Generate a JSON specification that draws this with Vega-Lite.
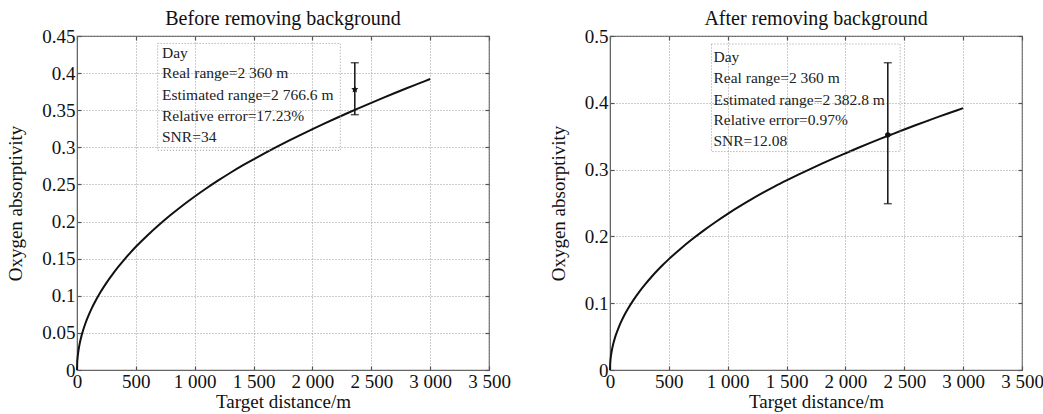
{
  "$schema": "https://vega.github.io/schema/vega-lite/v6.json",
  "background": "white",
  "padding": {"left": 6, "top": 8, "right": 5, "bottom": 0},
  "spacing": 37,
  "datasets": {
    "curve": [
      {"x": 0, "y": 0}, {"x": 2, "y": 0.0105}, {"x": 5, "y": 0.0166}, {"x": 10, "y": 0.0235}, {"x": 20, "y": 0.0332},
      {"x": 30, "y": 0.0407}, {"x": 40, "y": 0.047}, {"x": 50, "y": 0.0525}, {"x": 75, "y": 0.0643}, {"x": 100, "y": 0.0742},
      {"x": 125, "y": 0.083}, {"x": 150, "y": 0.0909}, {"x": 200, "y": 0.105}, {"x": 250, "y": 0.1174}, {"x": 300, "y": 0.1286},
      {"x": 350, "y": 0.1389}, {"x": 400, "y": 0.1485}, {"x": 450, "y": 0.1575}, {"x": 500, "y": 0.166}, {"x": 600, "y": 0.1816},
      {"x": 700, "y": 0.196}, {"x": 800, "y": 0.2094}, {"x": 900, "y": 0.222}, {"x": 1000, "y": 0.2338}, {"x": 1100, "y": 0.2449},
      {"x": 1200, "y": 0.2554}, {"x": 1300, "y": 0.2654}, {"x": 1400, "y": 0.2749}, {"x": 1500, "y": 0.2838}, {"x": 1600, "y": 0.2924},
      {"x": 1700, "y": 0.3008}, {"x": 1800, "y": 0.3089}, {"x": 1900, "y": 0.3168}, {"x": 2000, "y": 0.3244}, {"x": 2100, "y": 0.3319},
      {"x": 2200, "y": 0.3392}, {"x": 2300, "y": 0.3463}, {"x": 2400, "y": 0.3532}, {"x": 2500, "y": 0.36}, {"x": 2600, "y": 0.3667},
      {"x": 2700, "y": 0.3732}, {"x": 2800, "y": 0.3796}, {"x": 2900, "y": 0.3858}, {"x": 3000, "y": 0.392}
    ],
    "errLeft": [{"x": 2360, "y": 0.378, "lo": 0.344, "hi": 0.414}],
    "capsLeft": [{"x": 2360, "y": 0.344}, {"x": 2360, "y": 0.414}],
    "boxLeft": [{"x": 685, "x2": 2237, "y": 0.44, "y2": 0.296}],
    "textLeft": [
      {"x": 722, "y": 0.4275, "label": "Day"},
      {"x": 722, "y": 0.3997, "label": "Real range=2 360 m"},
      {"x": 722, "y": 0.3705, "label": "Estimated range=2 766.6 m"},
      {"x": 722, "y": 0.3426, "label": "Relative error=17.23%"},
      {"x": 722, "y": 0.3143, "label": "SNR=34"}
    ],
    "errRight": [{"x": 2360, "y": 0.352, "lo": 0.249, "hi": 0.46}],
    "capsRight": [{"x": 2360, "y": 0.249}, {"x": 2360, "y": 0.46}],
    "boxRight": [{"x": 862, "x2": 2465, "y": 0.488, "y2": 0.327}],
    "textRight": [
      {"x": 879, "y": 0.469, "label": "Day"},
      {"x": 879, "y": 0.437, "label": "Real range=2 360 m"},
      {"x": 879, "y": 0.4045, "label": "Estimated range=2 382.8 m"},
      {"x": 879, "y": 0.3736, "label": "Relative error=0.97%"},
      {"x": 879, "y": 0.3423, "label": "SNR=12.08"}
    ]
  },
  "hconcat": [
    {
      "width": 412,
      "height": 334,
      "title": {"text": "Before removing background"},
      "resolve": {"axis": {"x": "independent", "y": "independent"}},
      "layer": [
        {
          "data": {"name": "curve"},
          "mark": {"type": "line", "color": "#111", "strokeWidth": 2, "interpolate": "monotone"},
          "encoding": {
            "x": {"field": "x", "type": "quantitative", "scale": {"domain": [0, 3500], "nice": false},
                  "axis": {"values": [0, 500, 1000, 1500, 2000, 2500, 3000, 3500], "title": "Target distance/m", "titlePadding": 1,
                           "labelExpr": "replace(format(datum.value, ','), ',', ' ')"}},
            "y": {"field": "y", "type": "quantitative", "scale": {"domain": [0, 0.45], "nice": false},
                  "axis": {"values": [0, 0.05, 0.1, 0.15, 0.2, 0.25, 0.3, 0.35, 0.4, 0.45], "format": ".2~f", "title": "Oxygen absorptivity", "titlePadding": 16}}
          }
        },
        {
          "data": {"name": "boxLeft"},
          "mark": {"type": "rect", "fill": null, "fillOpacity": 0, "stroke": "#999", "strokeWidth": 1, "strokeDash": [1, 2]},
          "encoding": {
            "x": {"field": "x", "type": "quantitative", "axis": {"orient": "top", "values": [0, 500, 1000, 1500, 2000, 2500, 3000, 3500], "labels": false, "title": null, "grid": false, "domain": false, "minExtent": 0, "maxExtent": 0}},
            "x2": {"field": "x2"},
            "y": {"field": "y", "type": "quantitative", "axis": {"orient": "right", "values": [0, 0.05, 0.1, 0.15, 0.2, 0.25, 0.3, 0.35, 0.4, 0.45], "labels": false, "title": null, "grid": false, "domain": false, "minExtent": 0, "maxExtent": 0}},
            "y2": {"field": "y2"}
          }
        },
        {
          "data": {"name": "textLeft"},
          "mark": {"type": "text", "align": "left", "baseline": "middle", "fontSize": 15.5, "color": "#222"},
          "encoding": {
            "x": {"field": "x", "type": "quantitative", "axis": null},
            "y": {"field": "y", "type": "quantitative", "axis": null},
            "text": {"field": "label"}
          }
        },
        {
          "data": {"name": "errLeft"},
          "mark": {"type": "rule", "color": "#111", "strokeWidth": 1.5},
          "encoding": {
            "x": {"field": "x", "type": "quantitative", "axis": null},
            "y": {"field": "lo", "type": "quantitative", "axis": null},
            "y2": {"field": "hi"}
          }
        },
        {
          "data": {"name": "capsLeft"},
          "mark": {"type": "tick", "orient": "horizontal", "color": "#111", "size": 8, "thickness": 1.5},
          "encoding": {
            "x": {"field": "x", "type": "quantitative", "axis": null},
            "y": {"field": "y", "type": "quantitative", "axis": null}
          }
        },
        {
          "data": {"name": "errLeft"},
          "mark": {"type": "point", "filled": true, "color": "#111", "opacity": 1, "size": 55,
                   "shape": "M0,-1L0.29,-0.4L0.95,-0.31L0.47,0.15L0.59,0.81L0,0.5L-0.59,0.81L-0.47,0.15L-0.95,-0.31L-0.29,-0.4Z"},
          "encoding": {
            "x": {"field": "x", "type": "quantitative", "axis": null},
            "y": {"field": "y", "type": "quantitative", "axis": null}
          }
        }
      ]
    },
    {
      "width": 412,
      "height": 334,
      "title": {"text": "After removing background"},
      "resolve": {"axis": {"x": "independent", "y": "independent"}},
      "layer": [
        {
          "data": {"name": "curve"},
          "mark": {"type": "line", "color": "#111", "strokeWidth": 2, "interpolate": "monotone"},
          "encoding": {
            "x": {"field": "x", "type": "quantitative", "scale": {"domain": [0, 3500], "nice": false},
                  "axis": {"values": [0, 500, 1000, 1500, 2000, 2500, 3000, 3500], "title": "Target distance/m", "titlePadding": 1,
                           "labelExpr": "replace(format(datum.value, ','), ',', ' ')"}},
            "y": {"field": "y", "type": "quantitative", "scale": {"domain": [0, 0.5], "nice": false},
                  "axis": {"values": [0, 0.1, 0.2, 0.3, 0.4, 0.5], "format": ".1~f", "title": "Oxygen absorptivity", "titlePadding": 16}}
          }
        },
        {
          "data": {"name": "boxRight"},
          "mark": {"type": "rect", "fill": null, "fillOpacity": 0, "stroke": "#999", "strokeWidth": 1, "strokeDash": [1, 2]},
          "encoding": {
            "x": {"field": "x", "type": "quantitative", "axis": {"orient": "top", "values": [0, 500, 1000, 1500, 2000, 2500, 3000, 3500], "labels": false, "title": null, "grid": false, "domain": false, "minExtent": 0, "maxExtent": 0}},
            "x2": {"field": "x2"},
            "y": {"field": "y", "type": "quantitative", "axis": {"orient": "right", "values": [0, 0.1, 0.2, 0.3, 0.4, 0.5], "labels": false, "title": null, "grid": false, "domain": false, "minExtent": 0, "maxExtent": 0}},
            "y2": {"field": "y2"}
          }
        },
        {
          "data": {"name": "textRight"},
          "mark": {"type": "text", "align": "left", "baseline": "middle", "fontSize": 15.5, "color": "#222"},
          "encoding": {
            "x": {"field": "x", "type": "quantitative", "axis": null},
            "y": {"field": "y", "type": "quantitative", "axis": null},
            "text": {"field": "label"}
          }
        },
        {
          "data": {"name": "errRight"},
          "mark": {"type": "rule", "color": "#111", "strokeWidth": 1.5},
          "encoding": {
            "x": {"field": "x", "type": "quantitative", "axis": null},
            "y": {"field": "lo", "type": "quantitative", "axis": null},
            "y2": {"field": "hi"}
          }
        },
        {
          "data": {"name": "capsRight"},
          "mark": {"type": "tick", "orient": "horizontal", "color": "#111", "size": 8, "thickness": 1.5},
          "encoding": {
            "x": {"field": "x", "type": "quantitative", "axis": null},
            "y": {"field": "y", "type": "quantitative", "axis": null}
          }
        },
        {
          "data": {"name": "errRight"},
          "mark": {"type": "point", "filled": true, "color": "#111", "opacity": 1, "size": 30, "shape": "circle"},
          "encoding": {
            "x": {"field": "x", "type": "quantitative", "axis": null},
            "y": {"field": "y", "type": "quantitative", "axis": null}
          }
        }
      ]
    }
  ],
  "config": {
    "font": "Liberation Serif",
    "view": {"stroke": "#666", "strokeWidth": 1.2},
    "title": {"font": "Liberation Serif", "fontSize": 20, "fontWeight": "normal", "color": "#111", "offset": -2},
    "text": {"font": "Liberation Serif"},
    "axis": {
      "domainColor": "#666",
      "tickColor": "#555",
      "tickSize": -4,
      "tickWidth": 1.2,
      "grid": true,
      "gridColor": "#999",
      "gridDash": [1, 2],
      "gridOpacity": 1,
      "labelFont": "Liberation Serif",
      "labelFontSize": 19,
      "labelColor": "#111",
      "labelPadding": 6,
      "labelFlush": false,
      "labelOverlap": false,
      "titleFont": "Liberation Serif",
      "titleFontSize": 19,
      "titleFontWeight": "normal",
      "titleColor": "#111",
      "titlePadding": 6
    }
  }
}
